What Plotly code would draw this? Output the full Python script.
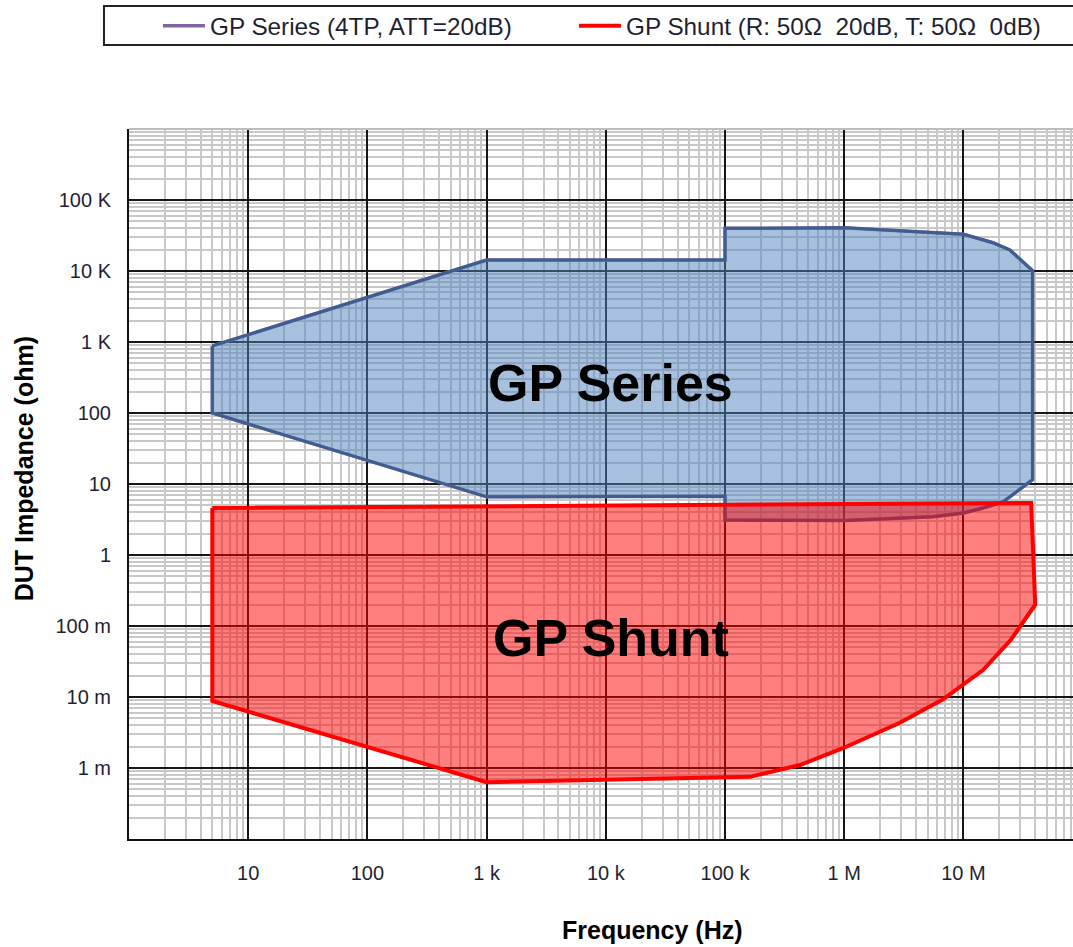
import numpy as np
import plotly.graph_objects as go

# GP Series (4TP, ATT=20dB) measurable range, boundary traced clockwise
series_freq_hz = [5, 1e3, 1e5, 1e5, 1e6, 1e7, 1.77e7, 2.45e7, 3.8e7, 3.8e7, 2.8e7,
                  2.15e7, 1.46e7, 1e7, 5.5e6, 3e6, 1e6, 1e5, 1e5, 1e3, 5, 5]
series_z_ohm = [880, 14300, 14300, 40000, 40500, 33000, 25000, 19800, 10100, 11.5, 7.8,
                5.6, 4.6, 3.9, 3.45, 3.3, 3.05, 3.1, 6.7, 6.6, 100, 880]

# GP Shunt (R: 50 ohm 20dB, T: 50 ohm 0dB) measurable range
shunt_freq_hz = [5, 3.7e7, 4.0e7, 2.5e7, 1.46e7, 6.7e6, 2.9e6, 9.75e5, 4.25e5, 1.62e5,
                 1e3, 5, 5]
shunt_z_ohm = [4.6, 5.4, 0.2, 0.064, 0.024, 0.0092, 0.0043, 0.0019, 0.0011, 0.00075,
               0.00063, 0.0088, 4.6]

freq_tick_vals = [1e1, 1e2, 1e3, 1e4, 1e5, 1e6, 1e7]
freq_tick_text = ["10", "100", "1 k", "10 k", "100 k", "1 M", "10 M"]
z_tick_vals = [1e-3, 1e-2, 1e-1, 1e0, 1e1, 1e2, 1e3, 1e4, 1e5]
z_tick_text = ["1 m", "10 m", "100 m", "1", "10", "100", "1 K", "10 K", "100 K"]

series_name = "GP Series (4TP, ATT=20dB)"
shunt_name = "GP Shunt (R: 50\u03a9\u00a0 20dB, T: 50\u03a9\u00a0 0dB)"

FONT = "Liberation Sans, Arial, sans-serif"
TEXT_COLOR = "#1f1f33"


def log_minor(lo_exp, hi_exp):
    return [k * 10.0 ** e for e in range(lo_exp, hi_exp) for k in range(2, 10)]


fig = go.Figure()

# series outline (legend line) underneath the shaded region
fig.add_trace(go.Scatter(
    x=series_freq_hz, y=series_z_ohm, mode="lines", name=series_name,
    line=dict(color="#8064a2", width=3.5), hoverinfo="skip", legendwidth=359))
fig.add_trace(go.Scatter(
    x=series_freq_hz, y=series_z_ohm, mode="lines", fill="toself",
    fillcolor="rgba(79,129,189,0.5)", line=dict(color="#3d5e8e", width=3),
    showlegend=False, hoverinfo="skip"))

# shunt region: fill first, then the red boundary on top
fig.add_trace(go.Scatter(
    x=shunt_freq_hz, y=shunt_z_ohm, mode="lines", fill="toself",
    fillcolor="rgba(255,0,0,0.5)", line=dict(width=0),
    showlegend=False, hoverinfo="skip"))
fig.add_trace(go.Scatter(
    x=shunt_freq_hz, y=shunt_z_ohm, mode="lines", name=shunt_name,
    line=dict(color="#ff0000", width=4), hoverinfo="skip", legendwidth=440))

axis_common = dict(
    type="log", ticks="", showgrid=True, gridcolor="#161616", gridwidth=1.5,
    zeroline=False, showline=True, linecolor="#111111", linewidth=2, mirror=False,
    tickmode="array",
    tickfont=dict(family=FONT, size=20, color=TEXT_COLOR),
)

fig.update_xaxes(
    range=[0, 7.919], tickvals=freq_tick_vals, ticktext=freq_tick_text,
    ticklabelstandoff=15,
    minor=dict(tickmode="array", tickvals=log_minor(0, 8), showgrid=True,
               gridcolor="#c8c8c8", gridwidth=1.5, ticks=""),
    **axis_common)
fig.update_yaxes(
    range=[-4, 6], tickvals=z_tick_vals, ticktext=z_tick_text,
    ticklabelstandoff=12,
    minor=dict(tickmode="array", tickvals=log_minor(-4, 6), showgrid=True,
               gridcolor="#c8c8c8", gridwidth=1.5, ticks=""),
    **axis_common)

# top edge of the plotting area and the legend frame
fig.add_shape(type="line", xref="paper", yref="paper", x0=0, x1=1, y0=1, y1=1,
              line=dict(color="#bdbdbd", width=2))
fig.add_shape(type="rect", xref="paper", yref="paper",
              x0=-0.0265, x1=1.003, y0=1.1183, y1=1.1732,
              line=dict(color="#222222", width=2), fillcolor="rgba(0,0,0,0)")

fig.add_annotation(x=4.035, y=2.423, xref="x", yref="y", text="<b>GP Series</b>",
                   showarrow=False, font=dict(family=FONT, size=52, color="black"))
fig.add_annotation(x=4.044, y=-1.169, xref="x", yref="y", text="<b>GP Shunt</b>",
                   showarrow=False, font=dict(family=FONT, size=52, color="black"))

# axis titles
fig.add_annotation(x=0.555, y=-0.128, xref="paper", yref="paper",
                   xanchor="center", yanchor="middle",
                   text="<b>Frequency (Hz)</b>", showarrow=False,
                   font=dict(family=FONT, size=25, color="black"))
fig.add_annotation(x=-0.111, y=0.521, xref="paper", yref="paper",
                   xanchor="center", yanchor="middle",
                   text="<b>DUT Impedance (ohm)</b>", showarrow=False, textangle=-90,
                   font=dict(family=FONT, size=25, color="black"))

fig.update_layout(
    width=1073, height=947,
    margin=dict(l=129, r=0, t=129, b=108),
    paper_bgcolor="white", plot_bgcolor="white",
    showlegend=True,
    legend=dict(orientation="h", x=0.0307, xanchor="left", y=1.145, yanchor="middle",
                font=dict(family=FONT, size=24.3, color=TEXT_COLOR),
                itemwidth=42, entrywidthmode="pixels",
                bgcolor="rgba(0,0,0,0)", borderwidth=0),
    hovermode=False,
)

fig.write_html("out.html")
